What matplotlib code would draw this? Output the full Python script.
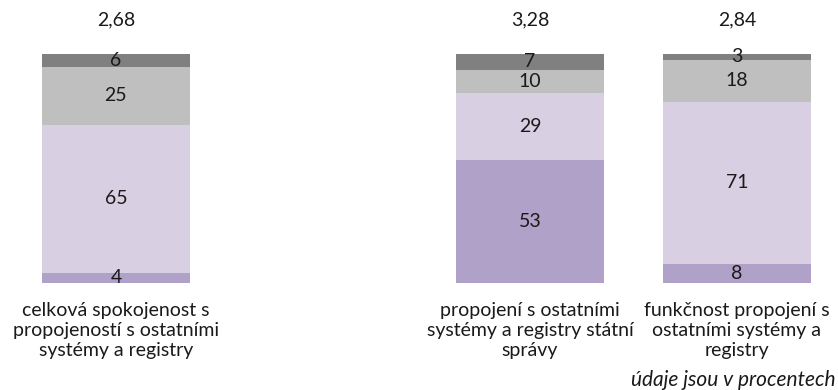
import numpy as np
import matplotlib
matplotlib.use("Agg")
import matplotlib.pyplot as plt

plt.rcParams['font.family'] = ['Lato', 'DejaVu Sans']

# categories (empty slot between first and second bar)
labels = ["celková spokojenost s\npropojeností s ostatními\nsystémy a registry",
          "",
          "propojení s ostatními\nsystémy a registry státní\nsprávy",
          "funkčnost propojení s\nostatními systémy a\nregistry"]
means = ["2,68", "", "3,28", "2,84"]

# percentages, bottom to top
s1 = [4, None, 53, 8]
s2 = [65, None, 29, 71]
s3 = [25, None, 10, 18]
s4 = [6, None, 7, 3]

colors = ["#b0a1c8", "#d8cfe3", "#bfbfbf", "#808080"]

fig = plt.figure(figsize=(8.38, 3.90), dpi=100)
ax = fig.add_axes([0, 0.2756, 1, 0.5872])

series = [s1, s2, s3, s4]
idx = [i for i in range(len(labels)) if s1[i] is not None]
x = np.array(idx, dtype=float)
totals = np.array([sum(s[i] for s in series) for i in idx], dtype=float)

bottom = np.zeros(len(idx))
for s, c in zip(series, colors):
    vals = np.array([s[i] for i in idx], dtype=float)
    h = vals / totals * 100
    ax.bar(x, h, bottom=bottom, width=0.715, color=c, edgecolor='none')
    for xi, b, hh, v in zip(x, bottom, h, vals):
        ax.text(xi, b + hh / 2, "%d" % v, ha='center', va='center',
                fontsize=14, color='#1a1a1a')
    bottom += h

for i in idx:
    ax.text(i, 114.6, means[i], ha='center', va='center', fontsize=14, color='#1a1a1a')
    ax.text(i, -8.5, labels[i], ha='center', va='top', fontsize=14,
            color='#1a1a1a', linespacing=1.2)

fig.text(0.997, 0.025, "údaje jsou v procentech", ha='right', va='center',
         fontsize=15, style='italic', color='#1a1a1a')

ax.set_xlim(-0.560, 3.488)
ax.set_ylim(0, 100)
ax.axis('off')

fig.savefig("out.png", dpi=100)
